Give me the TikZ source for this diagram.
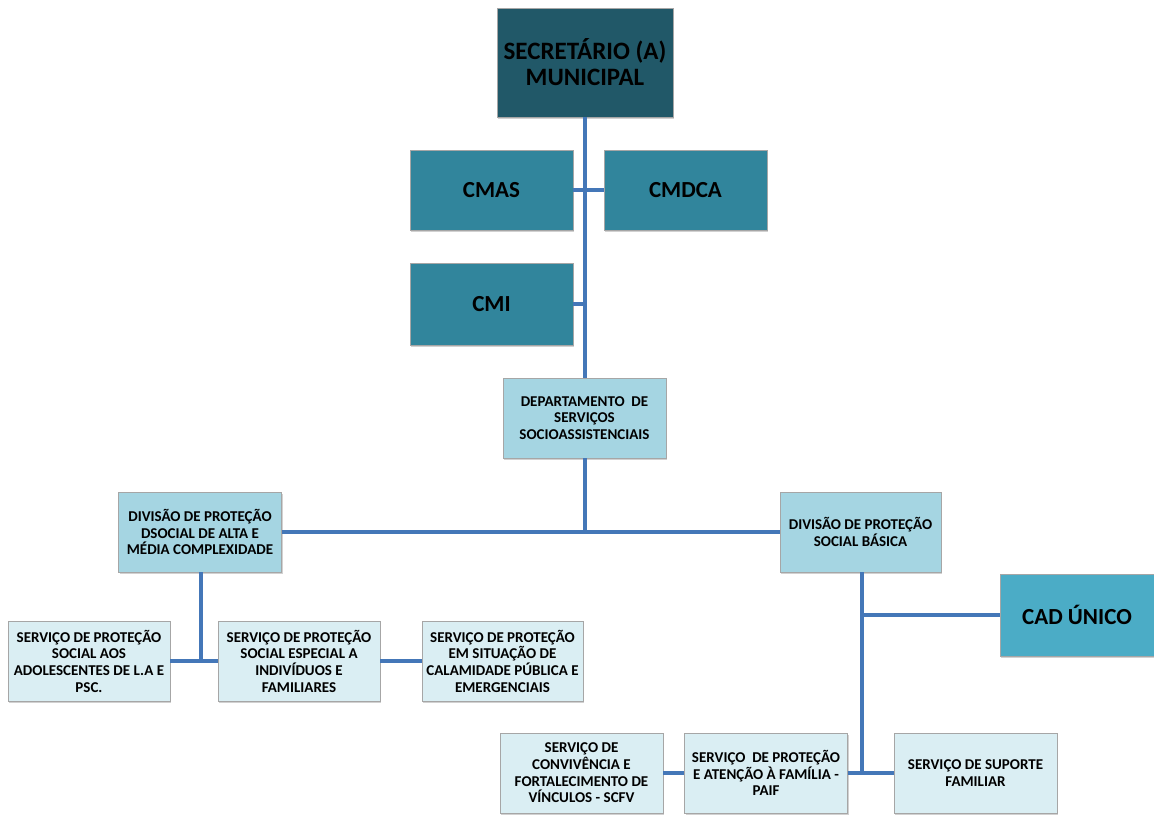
\documentclass[tikz,border=0pt]{standalone}
\usepackage{fontspec}
\setmainfont{Carlito}
\usetikzlibrary{shadows}
\definecolor{cdark}{HTML}{215868}
\definecolor{cmid}{HTML}{31859C}
\definecolor{clight}{HTML}{A5D5E2}
\definecolor{cpale}{HTML}{DAEEF3}
\definecolor{ccad}{HTML}{4BACC6}
\definecolor{cline}{HTML}{4477B8}
\begin{document}
\begin{tikzpicture}[x=1pt,y=-1pt,
  box/.style={draw=gray!70,line width=0.8pt,align=center,inner sep=1pt,text=black,
    drop shadow={shadow xshift=1.2pt,shadow yshift=-1.5pt,fill=gray!45,opacity=0.8}},
  bigbox/.style={box,font=\bfseries\fontsize{23}{26}\selectfont},
  smallbox/.style={box,font=\bfseries\fontsize{15}{16.7}\selectfont},
  conn/.style={draw=cline,line width=4pt}]
\useasboundingbox (0,0) rectangle (1154,817);
\node[box,font=\bfseries\fontsize{25}{26}\selectfont,fill=cdark,minimum width=176pt,minimum height=109pt] (sec) at (585,62.5) {SECRETÁRIO (A)\\MUNICIPAL};
\node[bigbox,fill=cmid,minimum width=163pt,minimum height=80pt] (cmas) at (491.5,190) {CMAS};
\node[bigbox,fill=cmid,minimum width=163pt,minimum height=80pt] (cmdca) at (685.5,190) {CMDCA};
\node[bigbox,fill=cmid,minimum width=163pt,minimum height=82pt] (cmi) at (491.5,304) {CMI};
\node[smallbox,fill=clight,minimum width=163pt,minimum height=80pt] (dep) at (584.5,418) {DEPARTAMENTO \ DE\\SERVIÇOS\\SOCIOASSISTENCIAIS};
\node[smallbox,fill=clight,minimum width=163pt,minimum height=80pt] (divl) at (200,532) {DIVISÃO DE PROTEÇÃO\\DSOCIAL DE ALTA E\\MÉDIA COMPLEXIDADE};
\node[smallbox,fill=clight,minimum width=161pt,minimum height=80pt] (divr) at (860.5,532) {DIVISÃO DE PROTEÇÃO\\SOCIAL BÁSICA};
\node[smallbox,fill=cpale,minimum width=162pt,minimum height=80pt] (s1) at (89,661) {SERVIÇO DE PROTEÇÃO\\SOCIAL AOS\\ADOLESCENTES DE L.A E\\PSC.};
\node[smallbox,fill=cpale,minimum width=162pt,minimum height=80pt] (s2) at (299,661) {SERVIÇO DE PROTEÇÃO\\SOCIAL ESPECIAL A\\INDIVÍDUOS E\\FAMILIARES};
\node[smallbox,fill=cpale,minimum width=161pt,minimum height=80pt] (s3) at (502.5,661) {SERVIÇO DE PROTEÇÃO\\EM SITUAÇÃO DE\\CALAMIDADE PÚBLICA E\\EMERGENCIAIS};
\node[bigbox,fill=ccad,minimum width=154pt,minimum height=82pt] (cad) at (1077,615) {CAD ÚNICO};
\node[smallbox,fill=cpale,minimum width=163pt,minimum height=80pt] (scfv) at (581.5,773) {SERVIÇO DE\\CONVIVÊNCIA E\\FORTALECIMENTO DE\\VÍNCULOS - SCFV};
\node[smallbox,fill=cpale,minimum width=163pt,minimum height=80pt] (paif) at (766,773) {SERVIÇO \ DE PROTEÇÃO\\E ATENÇÃO À FAMÍLIA -\\PAIF};
\node[smallbox,fill=cpale,minimum width=163pt,minimum height=80pt] (sup) at (975.5,773) {SERVIÇO DE SUPORTE\\FAMILIAR};
\coordinate (tk) at (585,0);
\coordinate (lv) at (201,0);
\coordinate (rv) at (862,0);
\draw[conn] (sec.south -| tk) -- (dep.north -| tk);
\draw[conn] (cmas.east) -- (cmdca.west);
\draw[conn] (cmi.east) -- (cmi.east -| tk);
\draw[conn] (dep.south -| tk) -- (divl.east -| tk);
\draw[conn] (divl.east) -- (divr.west);
\draw[conn] (divl.south -| lv) -- (s1.east -| lv);
\draw[conn] (s1.east) -- (s2.west);
\draw[conn] (s2.east) -- (s3.west);
\draw[conn] (divr.south -| rv) -- (paif.east -| rv);
\draw[conn] (cad.west -| rv) -- (cad.west);
\draw[conn] (scfv.east) -- (paif.west);
\draw[conn] (paif.east) -- (sup.west);
\end{tikzpicture}
\end{document}
